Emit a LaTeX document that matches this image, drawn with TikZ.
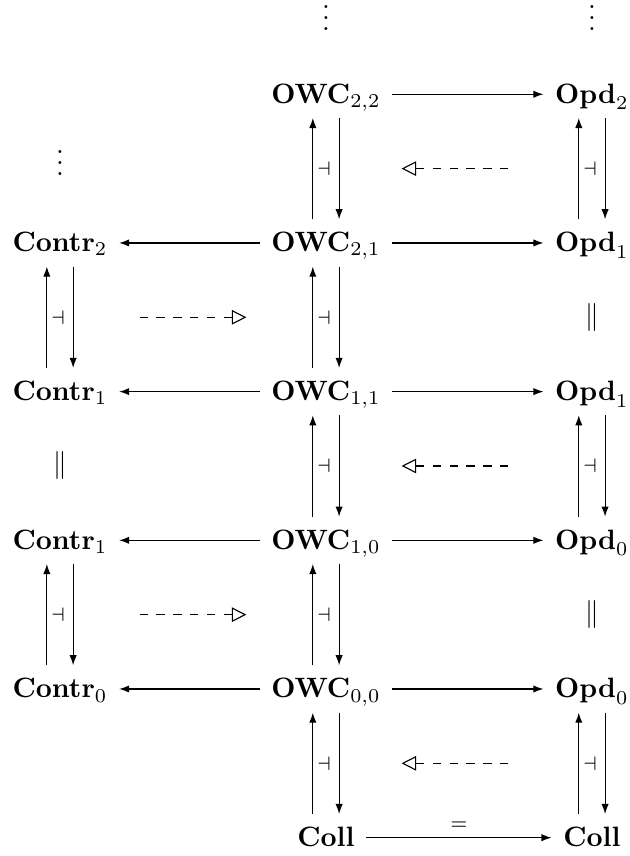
\documentclass[tikz,border=0pt]{standalone}
\usetikzlibrary{arrows.meta,calc}

\def\cs{3.338}
\def\rs{1.866}

\begin{document}
\begin{tikzpicture}[
	obj/.style={inner xsep=4pt, inner ysep=3.9pt, text height=7.5pt, text depth=1.2pt},
	map/.style={-{Latex[length=3.6pt,width=2.6pt]}},
	twocell/.style={dashed, -{Triangle[open,length=5.2pt,width=5.2pt]}, shorten <=0.93cm, shorten >=0.88cm},
	lbl/.style={inner sep=0pt},
	dotsbox/.style={inner sep=0pt, anchor=base, text height=9.1pt, text depth=0pt}
]

\useasboundingbox (-0.753cm,-0.23cm) rectangle (7.153cm,10.513cm);

\node[obj] (OWC22)	at (1*\cs, 5*\rs)	{$\mathbf{OWC}_{2,2}$};
\node[obj] (Opd2)	at (2*\cs, 5*\rs)	{$\mathbf{Opd}_2$};

\node[obj] (Contr2)	at (0*\cs, 4*\rs)	{$\mathbf{Contr}_2$};
\node[obj] (OWC21)	at (1*\cs, 4*\rs)	{$\mathbf{OWC}_{2,1}$};
\node[obj] (Opd1a)	at (2*\cs, 4*\rs)	{$\mathbf{Opd}_1$};

\node[obj] (Contr1a)	at (0*\cs, 3*\rs)	{$\mathbf{Contr}_1$};
\node[obj] (OWC11)	at (1*\cs, 3*\rs)	{$\mathbf{OWC}_{1,1}$};
\node[obj] (Opd1b)	at (2*\cs, 3*\rs)	{$\mathbf{Opd}_1$};

\node[obj] (Contr1b)	at (0*\cs, 2*\rs)	{$\mathbf{Contr}_1$};
\node[obj] (OWC10)	at (1*\cs, 2*\rs)	{$\mathbf{OWC}_{1,0}$};
\node[obj] (Opd0a)	at (2*\cs, 2*\rs)	{$\mathbf{Opd}_0$};

\node[obj] (Contr0)	at (0*\cs, 1*\rs)	{$\mathbf{Contr}_0$};
\node[obj] (OWC00)	at (1*\cs, 1*\rs)	{$\mathbf{OWC}_{0,0}$};
\node[obj] (Opd0b)	at (2*\cs, 1*\rs)	{$\mathbf{Opd}_0$};

\node[obj] (Coll1)	at (1*\cs, 0)		{$\mathbf{Coll}$};
\node[obj] (Coll2)	at (2*\cs, 0)		{$\mathbf{Coll}$};

% dots
\node[dotsbox] (dotsOWC)	at (1*\cs, 10.13cm)	{$\vdots$};
\node[dotsbox] (dotsOpd)	at (2*\cs, 10.13cm)	{$\vdots$};
\node[dotsbox] (dotsContr)	at (0*\cs, 8.309cm)	{$\vdots$};

% horizontal maps
\draw[map] (OWC22) -- (Opd2);
\foreach \o/\c/\p in {OWC21/Contr2/Opd1a, OWC11/Contr1a/Opd1b, OWC10/Contr1b/Opd0a, OWC00/Contr0/Opd0b}
{
	\draw[map] (\o) -- (\c);
	\draw[map] (\o) -- (\p);
}
\draw[map] (Coll1) -- node[above, inner sep=2.6pt] {$\scriptstyle =$} (Coll2);

% adjunctions
\foreach \a/\b in {Contr2/Contr1a, Contr1b/Contr0, OWC22/OWC21, OWC21/OWC11, OWC11/OWC10, OWC10/OWC00, OWC00/Coll1, Opd2/Opd1a, Opd1b/Opd0a, Opd0b/Coll2}
{
	\draw[map] ([xshift=-0.165cm]\b.north) -- ([xshift=-0.165cm]\a.south);
	\draw[map] ([xshift=0.165cm]\a.south) -- ([xshift=0.165cm]\b.north);
	\node[lbl, xshift=-0.025cm] (adj\a) at ($(\a)!0.5!(\b)$) {$\scriptstyle\dashv$};
}

% identities
\foreach \a/\b in {Contr1a/Contr1b, Opd1a/Opd1b, Opd0a/Opd0b}
{
	\node[lbl] (eq\a) at ($(\a)!0.5!(\b)$) {$\|$};
}

% transfer of adjunctions
\draw[twocell] (adjOpd2) -- (adjOWC22);
\draw[twocell] (adjContr2) -- (adjOWC21);
\draw[twocell] (adjOpd1b) -- (adjOWC11);
\draw[twocell] (adjContr1b) -- (adjOWC10);
\draw[twocell] (adjOpd0b) -- (adjOWC00);

\end{tikzpicture}
\end{document}
